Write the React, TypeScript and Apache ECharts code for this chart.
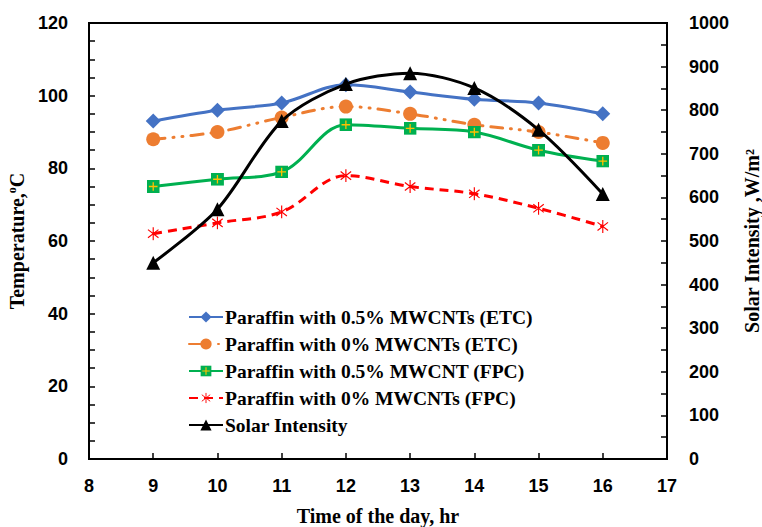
import React, { useEffect, useRef } from "react";
import * as echarts from "echarts";

const hours = [9, 10, 11, 12, 13, 14, 15, 16];
const etc05 = [93, 96, 98, 103, 101, 99, 98, 95];
const etc0 = [88, 90, 94, 97, 95, 92, 90, 87];
const fpc05 = [75, 77, 79, 92, 91, 90, 85, 82];
const fpc0 = [62, 65, 68, 78, 75, 73, 69, 64];
const solar = [450, 573, 775, 860, 885, 851, 755, 608];

const seriesNames = [
  "Paraffin with 0.5% MWCNTs (ETC)",
  "Paraffin with 0% MWCNTs (ETC)",
  "Paraffin with 0.5% MWCNT (FPC)",
  "Paraffin with 0% MWCNTs (FPC)",
  "Solar Intensity",
];

const svgUri = (s: string) => "image://data:image/svg+xml;charset=utf-8," + encodeURIComponent(s);

const squareSym = svgUri(
  "<svg xmlns='http://www.w3.org/2000/svg' width='24' height='24' viewBox='0 0 24 24'><rect x='0' y='0' width='24' height='24' fill='#00b050'/><path d='M12 4V20M4 12H20' stroke='#ffc000' stroke-width='2.4'/></svg>"
);
const starSym = svgUri(
  "<svg xmlns='http://www.w3.org/2000/svg' width='24' height='24' viewBox='0 0 24 24'><path d='M12 1V23M3 5L21 19M3 19L21 5' stroke='#ff0000' stroke-width='2'/></svg>"
);

const pairs = (ys: number[]) => hours.map((h, i) => [h, ys[i]]);

export default function App() {
  const ref = useRef<HTMLDivElement>(null);
  useEffect(() => {
    if (!ref.current) return;
    const chart = echarts.init(ref.current, null, { renderer: "svg" });
    const tickFont = { fontFamily: "Liberation Sans", fontWeight: "bold" as const, fontSize: 18, color: "#000" };
    const titleFont = { fontFamily: "Liberation Serif", fontWeight: "bold" as const, fontSize: 20, color: "#000" };
    chart.setOption({
      animation: false,
      backgroundColor: "#fff",
      grid: {
        left: 89,
        right: 95,
        top: 23,
        bottom: 68,
        show: true,
        borderColor: "#000",
        borderWidth: 2,
        outerBoundsMode: "none",
        containLabel: false,
      },
      legend: {
        orient: "vertical",
        left: 183,
        top: 302,
        itemGap: 7,
        itemWidth: 34,
        itemHeight: 14,
        data: seriesNames,
        textStyle: { fontFamily: "Liberation Serif", fontWeight: "bold", fontSize: 19.5, color: "#000", padding: [0, 0, 0, -3] },
      },
      xAxis: {
        type: "value",
        min: 8,
        max: 17,
        interval: 1,
        name: "Time of the day, hr",
        nameLocation: "middle",
        nameGap: 47,
        nameTextStyle: { ...titleFont, lineHeight: 20 },
        axisLine: { show: true, lineStyle: { color: "#000", width: 2 } },
        axisTick: { show: true, inside: true, length: 6, lineStyle: { color: "#000", width: 1.5 } },
        axisLabel: { ...tickFont, margin: 18 },
        splitLine: { show: false },
      },
      yAxis: [
        {
          type: "value",
          min: 0,
          max: 120,
          interval: 20,
          name: "{a|Temperature,}{s|o}{a|C}",
          nameLocation: "middle",
          nameGap: 60,
          nameRotate: 90,
          nameTextStyle: {
            rich: {
              a: { ...titleFont },
              s: { ...titleFont, fontSize: 12, verticalAlign: "bottom", padding: [0, 0, 10, 0] },
            },
          },
          axisLine: { show: true, lineStyle: { color: "#000", width: 2 } },
          axisTick: { show: true, inside: true, length: 6, lineStyle: { color: "#000", width: 1.5 } },
          minorTick: { show: true, splitNumber: 4, length: 6, lineStyle: { color: "#000", width: 1.5 } },
          axisLabel: { ...tickFont, margin: 21 },
          splitLine: { show: false },
        },
        {
          type: "value",
          min: 0,
          max: 1000,
          interval: 100,
          name: "Solar Intensity ,W/m²",
          nameLocation: "middle",
          nameGap: 75,
          nameRotate: 90,
          nameTextStyle: { ...titleFont, lineHeight: 20 },
          position: "right",
          axisLine: { show: true, lineStyle: { color: "#000", width: 2 } },
          axisTick: { show: true, inside: true, length: 6, lineStyle: { color: "#000", width: 1.5 } },
          minorTick: { show: true, splitNumber: 2, length: 6, lineStyle: { color: "#000", width: 1.5 } },
          axisLabel: { ...tickFont, margin: 22, formatter: (v: number) => String(v) },
          splitLine: { show: false },
        },
      ],
      series: [
        {
          name: seriesNames[0],
          type: "line",
          data: pairs(etc05),
          smooth: 0.35,
          symbol: "diamond",
          symbolSize: 15,
          color: "#4472c4",
          lineStyle: { color: "#4472c4", width: 3 },
          itemStyle: { color: "#4472c4" },
          z: 3,
        },
        {
          name: seriesNames[1],
          type: "line",
          data: pairs(etc0),
          smooth: 0.35,
          symbol: "circle",
          symbolSize: 14,
          color: "#ed7d31",
          lineStyle: { color: "#ed7d31", width: 3, type: [12, 8, 1, 8, 1, 8], cap: "round" },
          itemStyle: { color: "#ed7d31" },
          z: 3,
        },
        {
          name: seriesNames[2],
          type: "line",
          data: pairs(fpc05),
          smooth: 0.35,
          symbol: squareSym,
          symbolSize: 13,
          color: "#00b050",
          lineStyle: { color: "#00b050", width: 3 },
          itemStyle: { color: "#00b050" },
          z: 3,
        },
        {
          name: seriesNames[3],
          type: "line",
          data: pairs(fpc0),
          smooth: 0.35,
          symbol: starSym,
          symbolSize: 14,
          color: "#ff0000",
          lineStyle: { color: "#ff0000", width: 3, type: [9, 6] },
          itemStyle: { color: "#ff0000" },
          z: 3,
        },
        {
          name: seriesNames[4],
          type: "line",
          yAxisIndex: 1,
          data: pairs(solar),
          smooth: 0.3,
          symbol: "triangle",
          symbolSize: 14,
          color: "#000",
          lineStyle: { color: "#000", width: 3 },
          itemStyle: { color: "#000" },
          z: 4,
        },
      ],
    });
    return () => chart.dispose();
  }, []);
  return <div ref={ref} style={{ width: 762, height: 527, position: "absolute", left: 0, top: 0 }} />;
}
